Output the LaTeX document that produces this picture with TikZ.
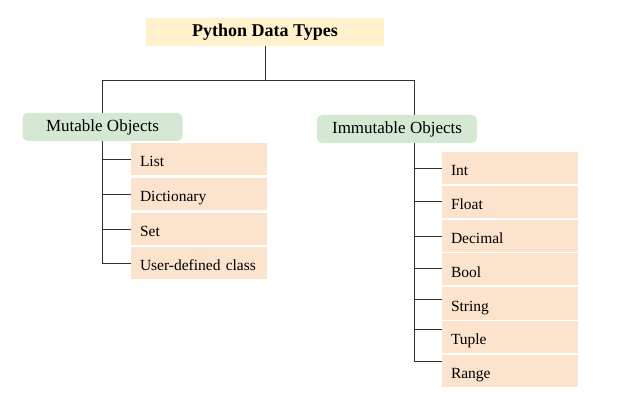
\documentclass[tikz,border=0pt]{standalone}
\usepackage{fontspec}
\setmainfont{Liberation Serif}
\definecolor{titlefill}{HTML}{FFF2CC}
\definecolor{groupfill}{HTML}{D5E8D4}
\definecolor{itemfill}{HTML}{FBE3CD}
\definecolor{linec}{HTML}{333333}
\begin{document}
\begin{tikzpicture}[x=1pt,y=-1pt,
  titlebox/.style={fill=titlefill, minimum width=238pt, minimum height=28pt, inner sep=0pt, font=\bfseries\fontsize{18}{20}\selectfont},
  groupbox/.style={fill=groupfill, rounded corners=5pt, minimum width=160pt, minimum height=28pt, inner sep=0pt, font=\fontsize{17}{19}\selectfont},
  itembox/.style={fill=itemfill, text width=118pt, inner xsep=9pt, inner ysep=0pt, minimum height=32pt, text height=15pt, text depth=0pt, align=left, font=\fontsize{15.5}{18}\selectfont},
  conn/.style={draw=linec, line width=0.8pt}]
\useasboundingbox (0,0) rectangle (622,401);
% nodes
\node[titlebox] (title) at (265,32) {Python Data Types};
\node[groupbox] (mut) at (102.5,127) {Mutable Objects};
\node[groupbox] (imm) at (397,129) {Immutable Objects};
\node[itembox] (l1) at (199,159.5) {List};
\node[itembox] (l2) at (199,194) {Dictionary};
\node[itembox] (l3) at (199,229) {Set};
\node[itembox] (l4) at (199,263.5) {User-defined class};
\node[itembox] (r1) at (510,168) {Int};
\node[itembox] (r2) at (510,202) {Float};
\node[itembox] (r3) at (510,236) {Decimal};
\node[itembox] (r4) at (510,269.5) {Bool};
\node[itembox] (r5) at (510,303.5) {String};
\node[itembox] (r6) at (510,337) {Tuple};
\node[itembox] (r7) at (510,371) {Range};
% top connectors
\coordinate (split) at ([yshift=-34pt]title.south);
\coordinate (immtop) at ([xshift=17pt]imm.north);
\coordinate (immbot) at ([xshift=17pt]imm.south);
\draw[conn] (title.south) -- (split);
\draw[conn] (split) -| (mut.north);
\draw[conn] (split) -| (immtop);
% left group
\draw[conn] (mut.south) |- (l4.west);
\foreach \n in {l1,l2,l3} {\draw[conn] (mut.south |- \n.west) -- (\n.west);}
% right group branch ends
\coordinate (e1) at (r1.west);
\coordinate (e2) at ([yshift=1pt]r2.west);
\coordinate (e3) at (r3.west);
\coordinate (e4) at ([yshift=1pt]r4.west);
\coordinate (e5) at ([yshift=4pt]r5.west);
\coordinate (e6) at ([yshift=8pt]r6.west);
\coordinate (e7) at ([yshift=10pt]r7.west);
\draw[conn] (immbot) |- (e7);
\foreach \n in {e1,e2,e3,e4,e5,e6} {\draw[conn] (immbot |- \n) -- (\n);}
\end{tikzpicture}
\end{document}
